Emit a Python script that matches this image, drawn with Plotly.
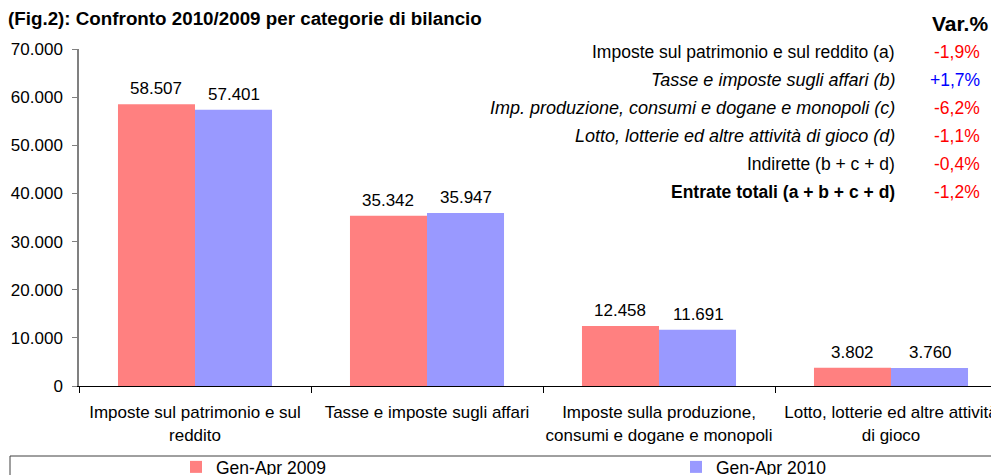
import plotly.graph_objects as go

# categories on the x axis
categorie = [
    "Imposte sul patrimonio e sul<br>reddito",
    "Tasse e imposte sugli affari",
    "Imposte sulla produzione,<br>consumi e dogane e monopoli",
    "Lotto, lotterie ed altre attività<br>di gioco",
]
# values (millions of euro)
gen_apr_2009 = [58507, 35342, 12458, 3802]
gen_apr_2010 = [57401, 35947, 11691, 3760]

# side table with the percent changes
voci_tabella = [
    "Imposte sul patrimonio e sul reddito (a)",
    "<i>Tasse e imposte sugli affari (b)</i>",
    "<i>Imp. produzione, consumi e dogane e monopoli (c)</i>",
    "<i>Lotto, lotterie ed altre attività di gioco (d)</i>",
    "Indirette (b + c + d)",
    "<b>Entrate totali (a + b + c + d)</b>",
]
var_perc = ["-1,9%", "+1,7%", "-6,2%", "-1,1%", "-0,4%", "-1,2%"]

font = "Liberation Sans, Arial, sans-serif"
W, H = 991, 475
L, T, B = 79, 49, 89
plot_w = W - L
plot_h = H - T - B


#pixel -> paper helpers
def px_x(px):
    return (px - L) / plot_w


def px_y(py):
    return (H - B - py) / plot_h


fig = go.Figure()
fig.add_trace(go.Bar(x=categorie, y=gen_apr_2009, name="Gen-Apr 2009",
                     marker=dict(color="#FF8080", line_width=0), legend="legend"))
fig.add_trace(go.Bar(x=categorie, y=gen_apr_2010, name="Gen-Apr 2010",
                     marker=dict(color="#9999FF", line_width=0), legend="legend2"))

# value labels above bars
annots = []
for i, (a, b) in enumerate(zip(gen_apr_2009, gen_apr_2010)):
    for v, sh in ((a, -39), (b, 39)):
        annots.append(dict(x=i, y=v, xref="x", yref="y", xshift=sh, yshift=4,
                           yanchor="bottom", showarrow=False,
                           text=f"{v:,}".replace(",", "."),
                           font=dict(size=17, color="#000000")))

# title and Var.% header
annots.append(dict(x=px_x(6), y=px_y(18), xref="paper", yref="paper",
                   xanchor="left", yanchor="middle", showarrow=False,
                   text="<b>(Fig.2): Confronto 2010/2009 per categorie di bilancio</b>",
                   font=dict(size=18.8, color="#000000")))
annots.append(dict(x=px_x(990), y=px_y(23), xref="paper", yref="paper",
                   xanchor="right", yanchor="middle", showarrow=False,
                   text="<b>Var.%</b>", font=dict(size=21, color="#000000")))

for k, (voce, v) in enumerate(zip(voci_tabella, var_perc)):
    yy = px_y(52 + k * 28)
    annots.append(dict(x=px_x(897), y=yy, xref="paper", yref="paper",
                       xanchor="right", yanchor="middle", showarrow=False,
                       text=voce,
                       font=dict(size=18 if voce.startswith("<i>") else 17.5, color="#000000")))
    annots.append(dict(x=px_x(982), y=yy, xref="paper", yref="paper",
                       xanchor="right", yanchor="middle", showarrow=False,
                       text=v, font=dict(size=17.5,
                                         color="#0000FF" if v.startswith("+") else "#FF0000")))

leg = dict(orientation="h", y=px_y(449), xanchor="left", yanchor="top", itemwidth=30,
           bgcolor="rgba(0,0,0,0)", font=dict(size=17.5))

fig.update_layout(
    width=W, height=H,
    margin=dict(l=L, r=0, t=T, b=B, autoexpand=False),
    paper_bgcolor="white", plot_bgcolor="white",
    font=dict(family=font, size=17, color="#000000"),
    barmode="group", bargap=0.336, bargroupgap=0,
    showlegend=True,
    legend=dict(leg, x=px_x(176)),
    legend2=dict(leg, x=px_x(676)),
    annotations=annots,
    shapes=[dict(type="rect", xref="paper", yref="paper",
                 x0=px_x(10), x1=px_x(1010), y0=px_y(456), y1=px_y(490),
                 line=dict(color="#404040", width=1), fillcolor="rgba(0,0,0,0)")],
)

fig.update_xaxes(range=[-0.5, -0.5 + plot_w / 232], showline=True, linecolor="#000000",
                 linewidth=1, ticks="outside", tickson="boundaries", ticklen=6,
                 tickcolor="#000000", showgrid=False, ticklabelstandoff=11,
                 tickangle=0, tickfont=dict(size=17))
fig.update_yaxes(range=[0, 70000], dtick=10000, tickformat=",.0f", showline=True,
                 linecolor="#808080", linewidth=1.5, ticks="outside", ticklen=5,
                 tickcolor="#808080", showgrid=False, zeroline=False,
                 ticklabelstandoff=6, tickfont=dict(size=17))
fig.update_layout(separators=",.")

# remove the default page margin so the figure sits at the window corner
fig.write_html("out.html", config={"displayModeBar": False},
               post_script="document.body.style.margin='0';")
